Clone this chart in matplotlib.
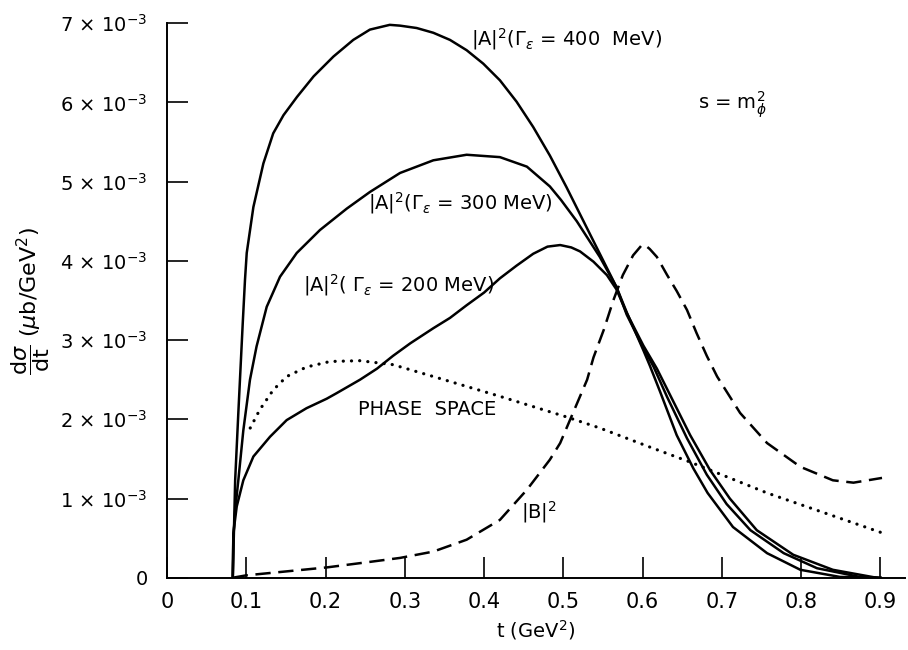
import numpy as np
import matplotlib
matplotlib.use('Agg')
import matplotlib.pyplot as plt

plt.rcParams['font.family'] = ['DejaVu Sans']
plt.rcParams['mathtext.fontset'] = 'dejavusans'
plt.rcParams['lines.scale_dashes'] = False

SCALE = 1e-3  # values read in units of 10^-3 mub/GeV^2

# |A|^2, Gamma = 400 MeV
t_400 = [0.083, 0.0845, 0.086, 0.090, 0.0955, 0.0984, 0.1006, 0.109, 0.1216, 0.134, 0.147,
         0.164, 0.185, 0.210, 0.235, 0.256, 0.281, 0.294, 0.315, 0.336, 0.357, 0.378,
         0.399, 0.420, 0.441, 0.462, 0.483, 0.504, 0.525, 0.546, 0.567, 0.580, 0.601,
         0.609, 0.622, 0.643, 0.664, 0.682, 0.714, 0.757, 0.799, 0.849, 0.900]
v_400 = [0.0, 0.6, 1.23, 2.08, 3.2, 3.76, 4.10, 4.68, 5.23, 5.61, 5.84,
         6.07, 6.33, 6.58, 6.79, 6.92, 6.98, 6.97, 6.94, 6.88, 6.79, 6.66,
         6.49, 6.28, 6.01, 5.69, 5.33, 4.93, 4.51, 4.09, 3.67, 3.35, 2.87,
         2.68, 2.35, 1.80, 1.38, 1.07, 0.64, 0.31, 0.10, 0.01, 0.0]

# |A|^2, Gamma = 300 MeV
t_300 = [0.083, 0.0837, 0.086, 0.090, 0.0963, 0.1047, 0.113, 0.1258, 0.1426, 0.1637, 0.193,
         0.2268, 0.256, 0.294, 0.336, 0.378, 0.420, 0.454, 0.483, 0.497, 0.517, 0.546,
         0.567, 0.580, 0.601, 0.614, 0.631, 0.656, 0.681, 0.706, 0.736, 0.778, 0.820,
         0.874, 0.900]
v_300 = [0.0, 0.5, 0.85, 1.23, 1.86, 2.50, 2.92, 3.42, 3.80, 4.10, 4.39,
         4.66, 4.87, 5.11, 5.27, 5.34, 5.31, 5.19, 4.94, 4.77, 4.50, 4.05,
         3.67, 3.32, 2.90, 2.66, 2.28, 1.76, 1.30, 0.93, 0.60, 0.31, 0.12,
         0.01, 0.0]

# |A|^2, Gamma = 200 MeV
t_200 = [0.083, 0.0837, 0.088, 0.0963, 0.109, 0.130, 0.151, 0.176, 0.2015, 0.214, 0.2435,
         0.265, 0.285, 0.307, 0.336, 0.357, 0.378, 0.400, 0.420, 0.441, 0.462, 0.480,
         0.496, 0.510, 0.521, 0.538, 0.555, 0.567, 0.580, 0.601, 0.618, 0.634, 0.660,
         0.685, 0.710, 0.744, 0.790, 0.840, 0.895]
v_200 = [0.0, 0.56, 0.90, 1.23, 1.53, 1.78, 1.99, 2.14, 2.26, 2.33, 2.50,
         2.64, 2.80, 2.96, 3.15, 3.28, 3.44, 3.60, 3.78, 3.94, 4.09, 4.18,
         4.20, 4.17, 4.12, 3.99, 3.82, 3.64, 3.34, 2.93, 2.64, 2.32, 1.80,
         1.36, 1.00, 0.60, 0.29, 0.10, 0.0]

# |B|^2
t_b = [0.083, 0.100, 0.2015, 0.256, 0.294, 0.336, 0.378, 0.420, 0.454, 0.483, 0.496,
       0.513, 0.530, 0.538, 0.551, 0.563, 0.575, 0.588, 0.599, 0.603, 0.609, 0.618,
       0.631, 0.643, 0.656, 0.668, 0.681, 0.694, 0.723, 0.757, 0.799, 0.840, 0.866,
       0.902]
v_b = [0.0, 0.03, 0.13, 0.20, 0.25, 0.33, 0.48, 0.73, 1.11, 1.49, 1.70,
       2.10, 2.50, 2.78, 3.13, 3.50, 3.82, 4.07, 4.20, 4.20, 4.15, 4.05,
       3.82, 3.62, 3.38, 3.09, 2.80, 2.54, 2.08, 1.70, 1.40, 1.23, 1.20,
       1.26]

# phase space
t_ps = [0.105, 0.117, 0.134, 0.151, 0.176, 0.2057, 0.2435, 0.285, 0.336, 0.420, 0.504,
        0.546, 0.609, 0.660, 0.757, 0.904]
v_ps = [1.89, 2.12, 2.37, 2.54, 2.66, 2.73, 2.74, 2.69, 2.54, 2.29, 2.03,
        1.89, 1.65, 1.46, 1.07, 0.56]

x_ticks = [0, 0.1, 0.2, 0.3, 0.4, 0.5, 0.6, 0.7, 0.8, 0.9]
x_labels = ['0', '0.1', '0.2', '0.3', '0.4', '0.5', '0.6', '0.7', '0.8', '0.9']
y_ticks = [0, 1, 2, 3, 4, 5, 6, 7]
y_labels = ['0'] + [r'%d $\times$ 10$^{-3}$' % k for k in y_ticks[1:]]

fig = plt.figure(figsize=(9.08, 6.5), dpi=100)
ax = fig.add_axes([0.1839, 0.1112, 0.8128, 0.853])

lw = 1.8
ax.plot(t_400, np.array(v_400) * SCALE, color='black', lw=lw)
ax.plot(t_300, np.array(v_300) * SCALE, color='black', lw=lw)
ax.plot(t_200, np.array(v_200) * SCALE, color='black', lw=lw)
ax.plot(t_b, np.array(v_b) * SCALE, color='black', lw=lw, linestyle=(0, (11, 5.5)))
ax.plot(t_ps, np.array(v_ps) * SCALE, color='black', lw=2.3, linestyle=(0, (0.1, 5.8)),
        dash_capstyle='round')

ax.set_xlim(0, 0.931)
ax.set_ylim(0, 7e-3)
ax.spines['top'].set_visible(False)
ax.spines['right'].set_visible(False)
for s in ['left', 'bottom']:
    ax.spines[s].set_linewidth(1.4)

ax.set_xticks(x_ticks)
ax.set_xticklabels(x_labels)
ax.set_yticks(np.array(y_ticks) * SCALE)
ax.set_yticklabels(y_labels)
ax.tick_params(axis='both', direction='in', length=15, width=1.2)
ax.tick_params(axis='x', pad=10, labelsize=15)
ax.tick_params(axis='y', pad=14, labelsize=14)

ax.set_xlabel(r't (GeV$^2$)', fontsize=14, labelpad=5)
ax.set_ylabel(r'$\dfrac{\mathrm{d}\sigma}{\mathrm{dt}}$ ($\mu$b/GeV$^2$)', fontsize=16, labelpad=6)

ax.text(0.383, 6.72e-3, r'|A|$^2$($\Gamma_\epsilon$ = 400  MeV)', fontsize=14)
ax.text(0.253, 4.65e-3, r'|A|$^2$($\Gamma_\epsilon$ = 300 MeV)', fontsize=14)
ax.text(0.172, 3.62e-3, r'|A|$^2$( $\Gamma_\epsilon$ = 200 MeV)', fontsize=14)
ax.text(0.67, 5.92e-3, r's = m$_\phi^2$', fontsize=14)
ax.text(0.241, 2.05e-3, 'PHASE  SPACE', fontsize=14)
ax.text(0.446, 0.75e-3, r'|B|$^2$', fontsize=14)

fig.savefig('out.png', dpi=100)
